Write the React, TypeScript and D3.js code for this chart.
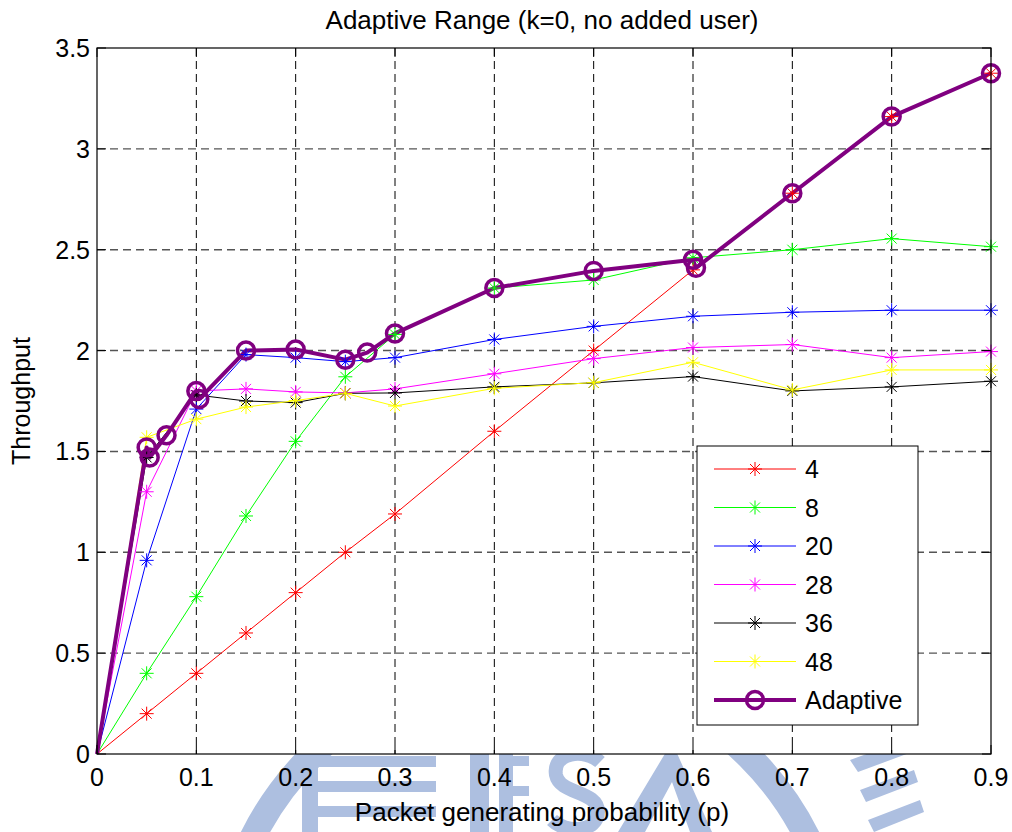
import React from "react";
import * as d3 from "d3";

const pValues = [0, 0.05, 0.1, 0.15, 0.2, 0.25, 0.3, 0.4, 0.5, 0.6, 0.7, 0.8, 0.9];
const s4 = [0, 0.2, 0.4, 0.6, 0.8, 1.0, 1.19, 1.6, 2.0, 2.4, 2.78, 3.16, 3.375];
const s8 = [0, 0.4, 0.78, 1.18, 1.55, 1.87, 2.08, 2.31, 2.35, 2.46, 2.5, 2.555, 2.515];
const s20 = [0, 0.96, 1.71, 1.98, 1.965, 1.945, 1.965, 2.055, 2.12, 2.17, 2.19, 2.2, 2.2];
const s28 = [0, 1.3, 1.8, 1.81, 1.795, 1.79, 1.81, 1.885, 1.96, 2.015, 2.03, 1.965, 1.995];
const s36 = [0, 1.47, 1.78, 1.75, 1.742, 1.788, 1.79, 1.82, 1.84, 1.871, 1.8, 1.82, 1.848];
const s48 = [0, 1.57, 1.66, 1.72, 1.752, 1.788, 1.725, 1.813, 1.841, 1.942, 1.805, 1.904, 1.904];
const adaptiveP = [0, 0.05, 0.053, 0.07, 0.1, 0.103, 0.15, 0.2, 0.25, 0.272, 0.3, 0.4, 0.5, 0.6, 0.603, 0.7, 0.8, 0.9];
const adaptiveY = [0, 1.52, 1.47, 1.58, 1.8, 1.76, 2.0, 2.005, 1.955, 1.99, 2.085, 2.31, 2.395, 2.45, 2.41, 2.78, 3.16, 3.375];

const seriesNames = ["4", "8", "20", "28", "36", "48"];
const seriesValues = [s4, s8, s20, s28, s36, s48];
const seriesColors = ["#ff0000", "#00ff00", "#0000ff", "#ff00ff", "#000000", "#ffff00"];
const adaptiveName = "Adaptive";
const adaptiveColor = "#800080";

const xTicks = [0, 0.1, 0.2, 0.3, 0.4, 0.5, 0.6, 0.7, 0.8, 0.9];
const yTicks = [0, 0.5, 1, 1.5, 2, 2.5, 3, 3.5];

const titleText = "Adaptive Range (k=0, no added user)";
const xLabel = "Packet generating probability (p)";
const yLabel = "Throughput";

const FONT = "'Liberation Sans', Arial, sans-serif";

function Star({ cx, cy, color }: { cx: number; cy: number; color: string }) {
  const a = 7;
  const b = 5;
  return (
    <g stroke={color} strokeWidth={1}>
      <line x1={cx - a} y1={cy} x2={cx + a} y2={cy} />
      <line x1={cx} y1={cy - a} x2={cx} y2={cy + a} />
      <line x1={cx - b} y1={cy - b} x2={cx + b} y2={cy + b} />
      <line x1={cx - b} y1={cy + b} x2={cx + b} y2={cy - b} />
    </g>
  );
}

export default function App() {
  const left = 97, right = 991, top = 48, bottom = 754;
  const x = d3.scaleLinear().domain([0, 0.9]).range([left, right]);
  const y = d3.scaleLinear().domain([0, 3.5]).range([bottom, top]);
  const line = d3
    .line<[number, number]>()
    .x((d) => x(d[0]))
    .y((d) => y(d[1]));

  const wm = "#adbfe0";
  const tickLen = 9;

  const legendX = 697, legendY = 446, legendW = 221, legendH = 279;
  const rowY = (i: number) => 469 + i * 38.5;

  return (
    <svg
      width={1012}
      height={832}
      style={{ position: "absolute", left: 0, top: 0, background: "#fff" }}
      fontFamily={FONT}
    >
      <rect x={0} y={0} width={1012} height={832} fill="#fff" />
      {/* watermark (background logo) */}
      <g fill={wm} stroke="none">
        <circle cx={530} cy={976} r={310} fill="none" stroke={wm} strokeWidth={26} />
        <rect x={302} y={740} width={16} height={92} />
        <rect x={318} y={756} width={118} height={11} />
        <rect x={318} y={781} width={118} height={11} />
        <rect x={318} y={806} width={118} height={11} />
        <rect x={470} y={740} width={19} height={92} />
        <rect x={499} y={740} width={14} height={92} />
        <rect x={513} y={756} width={16} height={10} />
        <rect x={513} y={786} width={16} height={10} />
        <path d="M600,762 C585,748 552,752 556,775 C560,795 598,790 598,812 C598,832 566,834 552,820" fill="none" stroke={wm} strokeWidth={14} />
        <path d="M618,832 L672,742 L712,832 Z M645,832 L672,782 L690,832 Z" fillRule="evenodd" />
        <path d="M850,760 L905,740 L912,752 L858,772 Z M860,790 L914,770 L918,782 L866,802 Z M868,820 L920,800 L924,812 L874,832 Z" />
      </g>
      {/* axes background */}
      <rect x={left} y={top} width={right - left} height={bottom - top} fill="#fff" />
      {/* grid */}
      <g>
        {xTicks.slice(1, -1).map((t) => (
          <line key={"gx" + t} x1={x(t)} x2={x(t)} y1={top} y2={bottom} stroke="#000" strokeWidth={1} strokeDasharray="8,5" />
        ))}
        {yTicks.slice(1, -1).map((t) => (
          <line key={"gy" + t} x1={left} x2={right} y1={y(t)} y2={y(t)} stroke="#555" strokeWidth={1.4} strokeDasharray="8,5" />
        ))}
      </g>
      {/* series lines */}
      {seriesValues.map((vals, i) => (
        <path
          key={"l" + i}
          d={line(pValues.map((p, j) => [p, vals[j]]) as [number, number][]) || ""}
          fill="none"
          stroke={seriesColors[i]}
          strokeWidth={1}
        />
      ))}
      <path
        d={line(adaptiveP.map((p, j) => [p, adaptiveY[j]]) as [number, number][]) || ""}
        fill="none"
        stroke={adaptiveColor}
        strokeWidth={4}
        strokeLinejoin="round"
      />
      {seriesValues.map((vals, i) => (
        <g key={"m" + i}>
          {pValues.map((p, j) =>
            p > 0 ? <Star key={j} cx={x(p)} cy={y(vals[j])} color={seriesColors[i]} /> : null
          )}
        </g>
      ))}
      {adaptiveP.map((p, j) =>
        p > 0 ? (
          <circle key={"c" + j} cx={x(p)} cy={y(adaptiveY[j])} r={8.5} fill="none" stroke={adaptiveColor} strokeWidth={3.5} />
        ) : null
      )}
      {/* axes box */}
      <rect x={left} y={top} width={right - left} height={bottom - top} fill="none" stroke="#000" strokeWidth={1.2} />
      {/* ticks */}
      {xTicks.map((t) => (
        <g key={"tx" + t}>
          <line x1={x(t)} x2={x(t)} y1={bottom} y2={bottom - tickLen} stroke="#000" />
          <line x1={x(t)} x2={x(t)} y1={top} y2={top + tickLen} stroke="#000" />
          <text x={x(t)} y={786} textAnchor="middle" fontSize={25} fill="#000">
            {String(t)}
          </text>
        </g>
      ))}
      {yTicks.map((t) => (
        <g key={"ty" + t}>
          <line x1={left} x2={left + tickLen} y1={y(t)} y2={y(t)} stroke="#000" />
          <line x1={right} x2={right - tickLen} y1={y(t)} y2={y(t)} stroke="#000" />
          <text x={90} y={y(t) + 9} textAnchor="end" fontSize={25} fill="#000">
            {String(t)}
          </text>
        </g>
      ))}
      {/* labels */}
      <text x={(left + right) / 2 - 2} y={29} textAnchor="middle" fontSize={26} fill="#000">
        {titleText}
      </text>
      <text x={(left + right) / 2 - 2} y={821} textAnchor="middle" fontSize={26} fill="#000">
        {xLabel}
      </text>
      <text transform={`translate(30,${(top + bottom) / 2}) rotate(-90)`} textAnchor="middle" fontSize={25} fill="#000">
        {yLabel}
      </text>
      {/* legend */}
      <rect x={legendX} y={legendY} width={legendW} height={legendH} fill="#fff" stroke="#000" strokeWidth={1} />
      {seriesNames.map((name, i) => (
        <g key={"lg" + i}>
          <line x1={714} x2={796} y1={rowY(i)} y2={rowY(i)} stroke={seriesColors[i]} strokeWidth={1} />
          <Star cx={755} cy={rowY(i)} color={seriesColors[i]} />
          <text x={805} y={rowY(i) + 9} fontSize={25} fill="#000">
            {name}
          </text>
        </g>
      ))}
      <g>
        <line x1={714} x2={796} y1={rowY(6)} y2={rowY(6)} stroke={adaptiveColor} strokeWidth={4} />
        <circle cx={755} cy={rowY(6)} r={8.5} fill="none" stroke={adaptiveColor} strokeWidth={3.5} />
        <text x={805} y={rowY(6) + 9} fontSize={25} fill="#000">
          {adaptiveName}
        </text>
      </g>
    </svg>
  );
}
